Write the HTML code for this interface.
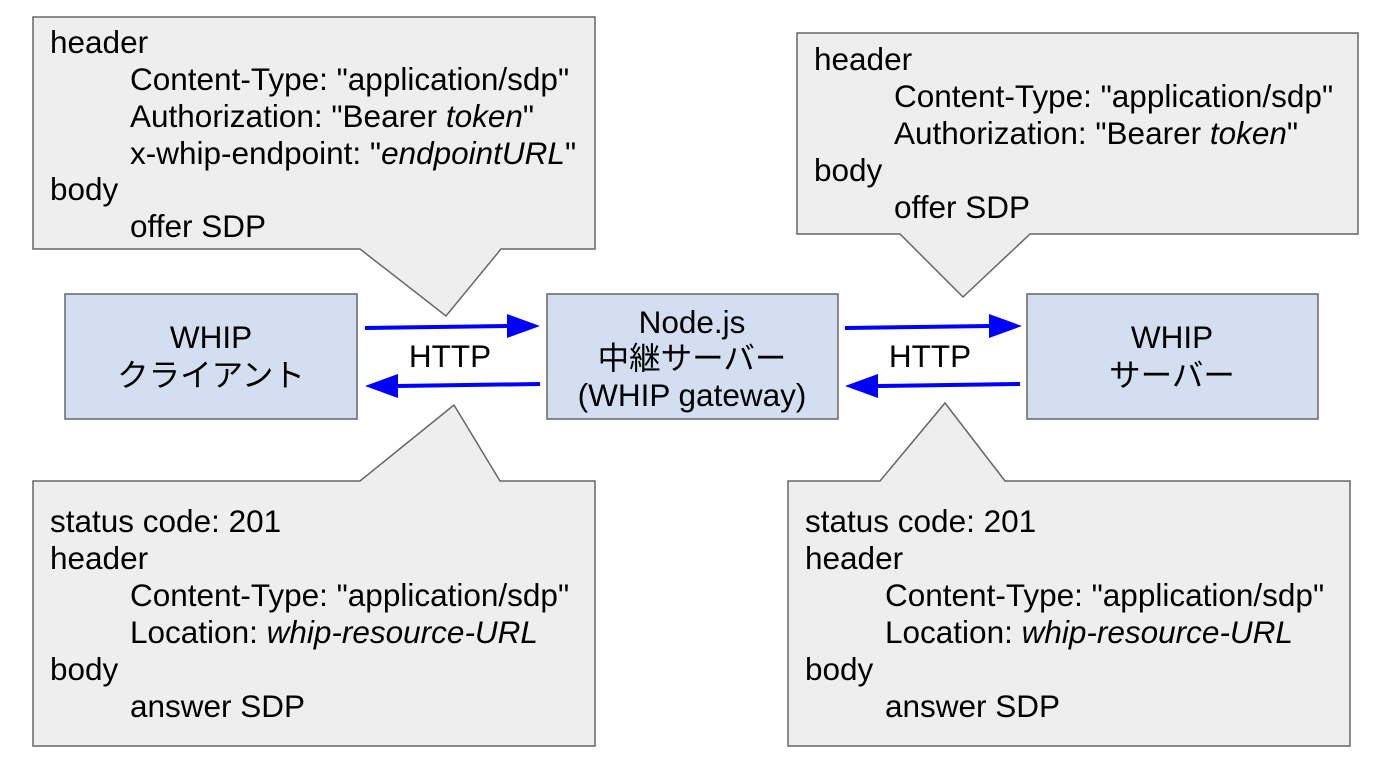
<!DOCTYPE html>
<html><head><meta charset="utf-8"><style>
html,body{margin:0;padding:0;background:#fff;}
svg{display:block;}
text{font-family:"Liberation Sans","Noto Sans CJK JP",sans-serif;font-size:31.5px;fill:#000;}
</style></head><body>
<svg width="1396" height="776" viewBox="0 0 1396 776" xmlns="http://www.w3.org/2000/svg">
<g fill="#eeeeee" stroke="#666" stroke-width="1.5">
<path d="M33,17 H595 V249 H501 L446,316 L360,249 H33 Z"/>
<path d="M797,33 H1358 V234 H1030 L963,297 L900,234 H797 Z"/>
<path d="M33,481 H360 L454,405 L500,481 H595 V746 H33 Z"/>
<path d="M788,481 H880 L945,403 L1005,481 H1350 V746 H788 Z"/>
</g>
<g fill="#d3dff0" stroke="#666" stroke-width="1.5">
<rect x="65" y="294" width="292" height="125"/>
<rect x="547" y="294" width="291" height="125"/>
<rect x="1027" y="294" width="291" height="125"/>
</g>
<g stroke="#0000ff" stroke-width="4" fill="#0000ff">
<line x1="365" y1="328" x2="508" y2="326"/><polygon points="540,326 507,314 507,338" stroke="none"/>
<line x1="540" y1="384" x2="397" y2="386"/><polygon points="365,386 398,374 398,398" stroke="none"/>
<line x1="845" y1="328" x2="990" y2="326"/><polygon points="1022,326 989,314 989,338" stroke="none"/>
<line x1="1020" y1="384" x2="877" y2="386"/><polygon points="845,386 878,374 878,398" stroke="none"/>
</g>
<text x="450" y="367" text-anchor="middle">HTTP</text>
<text x="930" y="367" text-anchor="middle">HTTP</text>
<text x="211" y="348" text-anchor="middle">WHIP</text>
<text x="211" y="386" text-anchor="middle">クライアント</text>
<text x="692" y="333" text-anchor="middle">Node.js</text>
<text x="692" y="369" text-anchor="middle">中継サーバー</text>
<text x="692" y="406" text-anchor="middle">(WHIP gateway)</text>
<text x="1172" y="348" text-anchor="middle">WHIP</text>
<text x="1172" y="386" text-anchor="middle">サーバー</text>

<text x="50" y="53">header</text>
<text x="130" y="90">Content-Type: "application/sdp"</text>
<text x="130" y="127">Authorization: "Bearer <tspan font-style="italic">token</tspan>"</text>
<text x="130" y="164">x-whip-endpoint: "<tspan font-style="italic">endpointURL</tspan>"</text>
<text x="50" y="200">body</text>
<text x="130" y="237">offer SDP</text>

<text x="814" y="70">header</text>
<text x="894" y="107">Content-Type: "application/sdp"</text>
<text x="894" y="144">Authorization: "Bearer <tspan font-style="italic">token</tspan>"</text>
<text x="814" y="181">body</text>
<text x="894" y="218">offer SDP</text>

<text x="50" y="532">status code: 201</text>
<text x="50" y="569">header</text>
<text x="130" y="606">Content-Type: "application/sdp"</text>
<text x="130" y="643">Location: <tspan font-style="italic">whip-resource-URL</tspan></text>
<text x="50" y="680">body</text>
<text x="130" y="717">answer SDP</text>

<text x="805" y="532">status code: 201</text>
<text x="805" y="569">header</text>
<text x="885" y="606">Content-Type: "application/sdp"</text>
<text x="885" y="643">Location: <tspan font-style="italic">whip-resource-URL</tspan></text>
<text x="805" y="680">body</text>
<text x="885" y="717">answer SDP</text>
</svg>
</body></html>
